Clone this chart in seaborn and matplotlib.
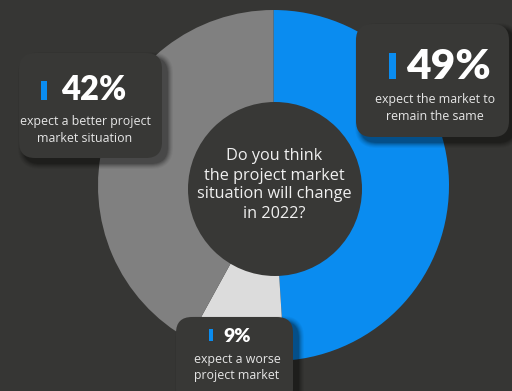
import matplotlib
matplotlib.use("Agg")
import matplotlib.pyplot as plt
from matplotlib.patches import FancyBboxPatch, Circle, Rectangle
import seaborn as sns

# ---- data ----
labels = ["expect the market to\nremain the same", "expect a worse\nproject market", "expect a better project\nmarket situation"]
values = [49, 9, 42]
pct_labels = ["49%", "9%", "42%"]
colors = ["#0A8CF0", "#DCDCDC", "#808080"]
question = "Do you think\nthe project market\nsituation will change\nin 2022?"

BG = "#363634"
BOX = "#383836"
W, H = 512, 391

sns.set_theme(style="white")
plt.rcParams["font.family"] = ["Open Sans", "DejaVu Sans"]

fig = plt.figure(figsize=(W / 100, H / 100), dpi=100, facecolor=BG)
ax = fig.add_axes([0, 0, 1, 1])
ax.set_facecolor(BG)

def Y(py):
    return H - py

# donut
ax.pie(values, colors=colors, startangle=90, counterclock=False,
       center=(273.5, Y(185.5)), radius=175.5,
       wedgeprops=dict(linewidth=0))
ax.set_xlim(0, W)
ax.set_ylim(0, H)
ax.set_aspect("equal")
ax.axis("off")

# inner circle
ax.add_patch(Circle((275, Y(189)), 87, facecolor=BOX, edgecolor="none", zorder=3))
ax.text(274, Y(185), question, ha="center", va="center", color="#F0F0F0",
        fontsize=11.7, linespacing=1.25, zorder=4)

def box(x0, y0, x1, y1, z=5):
    # shadow
    for i, a in enumerate([0.04, 0.05, 0.07, 0.09, 0.12, 0.14]):
        pad = 12 - i * 2
        ax.add_patch(FancyBboxPatch((x0 + 5 - pad / 2, Y(y1) - 5 - pad / 2),
                                    (x1 - x0) + pad, (y1 - y0) + pad,
                                    boxstyle="round,pad=0,rounding_size=%d" % (16 + pad / 2),
                                    facecolor="black", edgecolor="none", alpha=a, zorder=z))
    ax.add_patch(FancyBboxPatch((x0, Y(y1)), x1 - x0, y1 - y0,
                                boxstyle="round,pad=0,rounding_size=16",
                                facecolor=BOX, edgecolor="none", zorder=z + 1))

def bar(x0, x1, y0, y1, z=7):
    ax.add_patch(Rectangle((x0, Y(y1)), x1 - x0, y1 - y0, facecolor=colors[0],
                           edgecolor="none", zorder=z))

bold = ["Lato", "DejaVu Sans"]
small = 8.9

# right box (49%)
box(356, 24, 509, 137)
bar(389, 396, 53, 79)
ax.text(448, Y(67), pct_labels[0], ha="center", va="center", color="white",
        fontsize=30.5, fontweight="heavy", family=bold, zorder=8)
ax.text(435, Y(108), labels[0], ha="center", va="center", color="#E6E6E6",
        fontsize=small, linespacing=1.3, zorder=8)

# left box (42%)
box(19, 53, 162, 158)
bar(41, 47, 81, 100)
ax.text(94, Y(90), pct_labels[2], ha="center", va="center", color="white",
        fontsize=23.5, fontweight="heavy", family=bold, zorder=8)
ax.text(85, Y(130), labels[2], ha="center", va="center", color="#E6E6E6",
        fontsize=small, linespacing=1.3, zorder=8)

# bottom box (9%)
box(176, 317, 293, 405)
bar(209, 213, 329, 341)
ax.text(237, Y(336), pct_labels[1], ha="center", va="center", color="white",
        fontsize=14, fontweight="heavy", family=bold, zorder=8)
ax.text(237, Y(368), labels[1], ha="center", va="center", color="#E6E6E6",
        fontsize=small, linespacing=1.3, zorder=8)

fig.savefig("out.png", dpi=100, facecolor=BG)
